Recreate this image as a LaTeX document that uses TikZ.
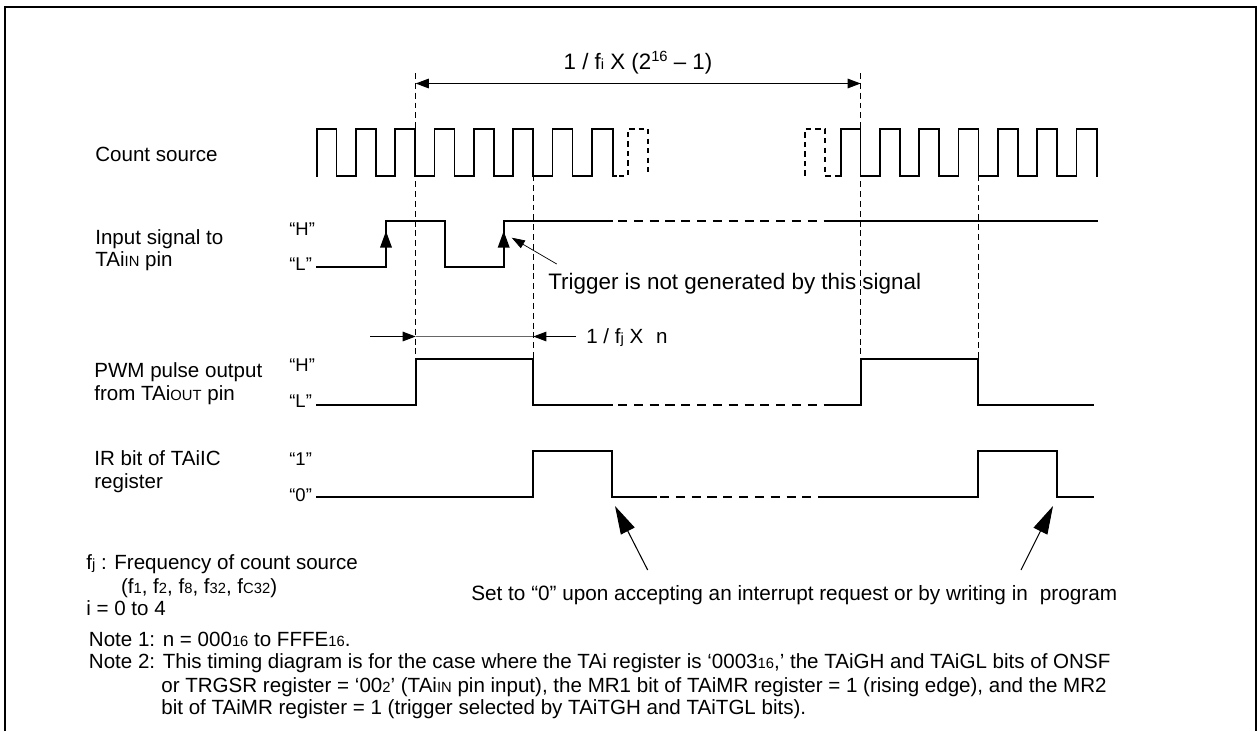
\documentclass[tikz,border=0pt]{standalone}
\usepackage{fontspec}
\setmainfont{Liberation Sans}
\usetikzlibrary{arrows.meta}
\newcommand{\sm}[1]{{\fontsize{8.4}{10}\selectfont #1}}
\tikzset{
	wave/.style={line width=1pt, line cap=rect, line join=miter},
	wavedash/.style={line width=1pt, dash pattern=on 5.2pt off 3.8pt},
	clockdash/.style={line width=1pt, dash pattern=on 3pt off 2.4pt},
	guide/.style={line width=0.4pt, dash pattern=on 3.4pt off 2.2pt},
	dimtip/.style={-{Triangle[length=7.5pt,width=5.5pt]}},
	dimline/.style={line width=0.6pt, dimtip},
	risetip/.style={line width=1pt, -{Triangle[length=9.5pt,width=6.6pt]}},
	bigtip/.style={line width=0.6pt, -{Triangle[length=16pt,width=8.7pt]}},
	sig/.style={anchor=base west, inner sep=0pt, font=\fontsize{11.7}{14}\selectfont},
	lvl/.style={anchor=base west, inner sep=0pt, font=\fontsize{10.5}{12}\selectfont},
	note/.style={anchor=base west, inner sep=0pt, font=\fontsize{11.7}{14}\selectfont}
}
\begin{document}
\begin{tikzpicture}[x=0.02cm, y=-0.02cm]
	\useasboundingbox (0,0) rectangle (1257,731);
	% outer frame
	\draw[line width=1.4pt] (5,731) -- (5,7) -- (1256,7) -- (1256,731);
	% guide lines
	\coordinate (gA) at (415.7,73);
	\coordinate (gB) at (860.7,73);
	\coordinate (gC) at (533.3,175);
	\coordinate (gD) at (978,175);
	\draw[guide] (gA) -- (415.7,359);
	\draw[guide] (gB) -- (860.7,359);
	\draw[guide] (gC) -- (533.3,359);
	\draw[guide] (gD) -- (978,359);
	% top dimension
	\coordinate (topA) at (415.7,83.5);
	\coordinate (topB) at (860.7,83.5);
	\draw[line width=0.6pt, {Triangle[length=7.5pt,width=5.5pt]}-{Triangle[length=7.5pt,width=5.5pt]}] (topA) -- (topB);
	\node[sig, anchor=base, font=\fontsize{12.7}{14}\selectfont] (period) at (638,69) {1 / f\sm{i} X (2\raisebox{4.5pt}{\sm{16}} – 1)};
	% count source
	\foreach \x in {316.7,356,395.3,434.6,473.9,513.2,552.5,840.7,880,919.3,958.6,997.9,1037.2} {
		\draw[wave] (\x,175.7) -- (\x,129) -- ++(19.9,0) -- ++(0,46.7) -- ++(19.4,0);
	}
	\draw[wave] (591.8,175.7) -- (591.8,129) -- (612.7,129) -- (612.7,175.7) -- (616,175.7);
	\draw[wave] (1076.5,175.7) -- (1076.5,129) -- (1096.7,129) -- (1096.7,175.7);
	\draw[clockdash] (619,175.7) -- (628,175.7) -- (628,129) -- (648,129) -- (648,175.7);
	\draw[clockdash] (805,175.7) -- (805,129) -- (825,129) -- (825,175.7) -- (840.7,175.7);
	% input signal
	\draw[wave] (316.5,267.3) -- (386,267.3) -- (386,221) -- (445,221) -- (445,267.3) -- (503.7,267.3) -- (503.7,221) -- (612,221);
	\draw[wavedash] (618,221) -- (832,221);
	\draw[wave] (832,221) -- (1097,221);
	\coordinate (riseA) at (386,231);
	\coordinate (riseB) at (503.7,231);
	\draw[risetip] (386,260) -- (riseA);
	\draw[risetip] (503.7,260) -- (riseB);
	% pwm output
	\draw[wave] (316.5,405) -- (415.7,405) -- (415.7,359.3) -- (533.3,359.3) -- (533.3,405) -- (612,405);
	\draw[wavedash] (618,405) -- (830,405);
	\draw[wave] (830,405) -- (860.7,405) -- (860.7,359.3) -- (978,359.3) -- (978,405) -- (1093,405);
	% ir bit
	\draw[wave] (316.5,496.7) -- (533.3,496.7) -- (533.3,450.7) -- (612,450.7) -- (612,496.7) -- (656,496.7);
	\draw[wavedash] (660,496.7) -- (827,496.7);
	\draw[wave] (827,496.7) -- (978,496.7) -- (978,450.7) -- (1057,450.7) -- (1057,496.7) -- (1093,496.7);
	% small dimension
	\coordinate (pulseA) at (370,336.5);
	\coordinate (pulseB) at (576,336.5);
	\draw[dimline] (pulseA) -- (415.7,336.5);
	\draw[dimline] (pulseB) -- (533.3,336.5);
	\draw[line width=0.4pt, black!60] (415.7,336.5) -- (533.3,336.5);
	\node[sig] (pulselabel) at (586,343) {1 / f\sm{j} X\hspace{0.35em} n};
	% signal names
	\node[sig] (count) at (95,161.7) {Count source};
	\node[sig] (inA) at (95,244) {Input signal to};
	\node[sig] (inB) at (95,266.7) {TAi\sm{IN} pin};
	\node[sig] (pwmA) at (94,377) {PWM pulse output};
	\node[sig] (pwmB) at (94,400) {from TAi\sm{OUT} pin};
	\node[sig] (irA) at (94,465.7) {IR bit of TAiIC};
	\node[sig] (irB) at (94,488) {register};
	% levels
	\foreach \y/\t/\n in {235/“H”/lvlA, 270.7/“L”/lvlB, 371/“H”/lvlC, 407.7/“L”/lvlD, 465.7/“1”/lvlE, 501.7/“0”/lvlF} {
		\node[lvl] (\n) at (289,\y) {\t};
	}
	% annotations
	\node[sig, font=\fontsize{12.75}{14}\selectfont] (trigger) at (548,289) {Trigger is not generated by this signal};
	\coordinate (trigTail) at (556.7,264);
	\draw[line width=0.4pt, -{Triangle[length=7.5pt,width=5pt]}] (trigTail) -- (511.7,237.7);
	\node[sig, font=\fontsize{11.8}{14}\selectfont] (setzero) at (471,600) {Set to “0” upon accepting an interrupt request or by writing in\hspace{0.3em} program};
	\coordinate (tailL) at (647.7,570);
	\coordinate (tailR) at (1021,570);
	\draw[bigtip] (tailL) -- (615,506);
	\draw[bigtip] (tailR) -- (1053,506);
	% notes
	\node[note] (fj) at (86,569) {f\sm{j} : Frequency of count source};
	\node[note] (fjlist) at (120.7,593) {(f\sm{1}, f\sm{2}, f\sm{8}, f\sm{32}, f\sm{C32})};
	\node[note] (range) at (86,615) {i = 0 to 4};
	\node[note] (noteA) at (88.6,646) {Note 1: n = 000\sm{16} to FFFE\sm{16}.};
	\node[note] (noteB) at (88.6,668) {Note 2: This timing diagram is for the case where the TAi register is ‘0003\sm{16},’ the TAiGH and TAiGL bits of ONSF};
	\node[note] (noteC) at (161,692) {or TRGSR register = ‘00\sm{2}’ (TAi\sm{IN} pin input), the MR1 bit of TAiMR register = 1 (rising edge), and the MR2};
	\node[note] (noteD) at (161,714) {bit of TAiMR register = 1 (trigger selected by TAiTGH and TAiTGL bits).};
\end{tikzpicture}
\end{document}
